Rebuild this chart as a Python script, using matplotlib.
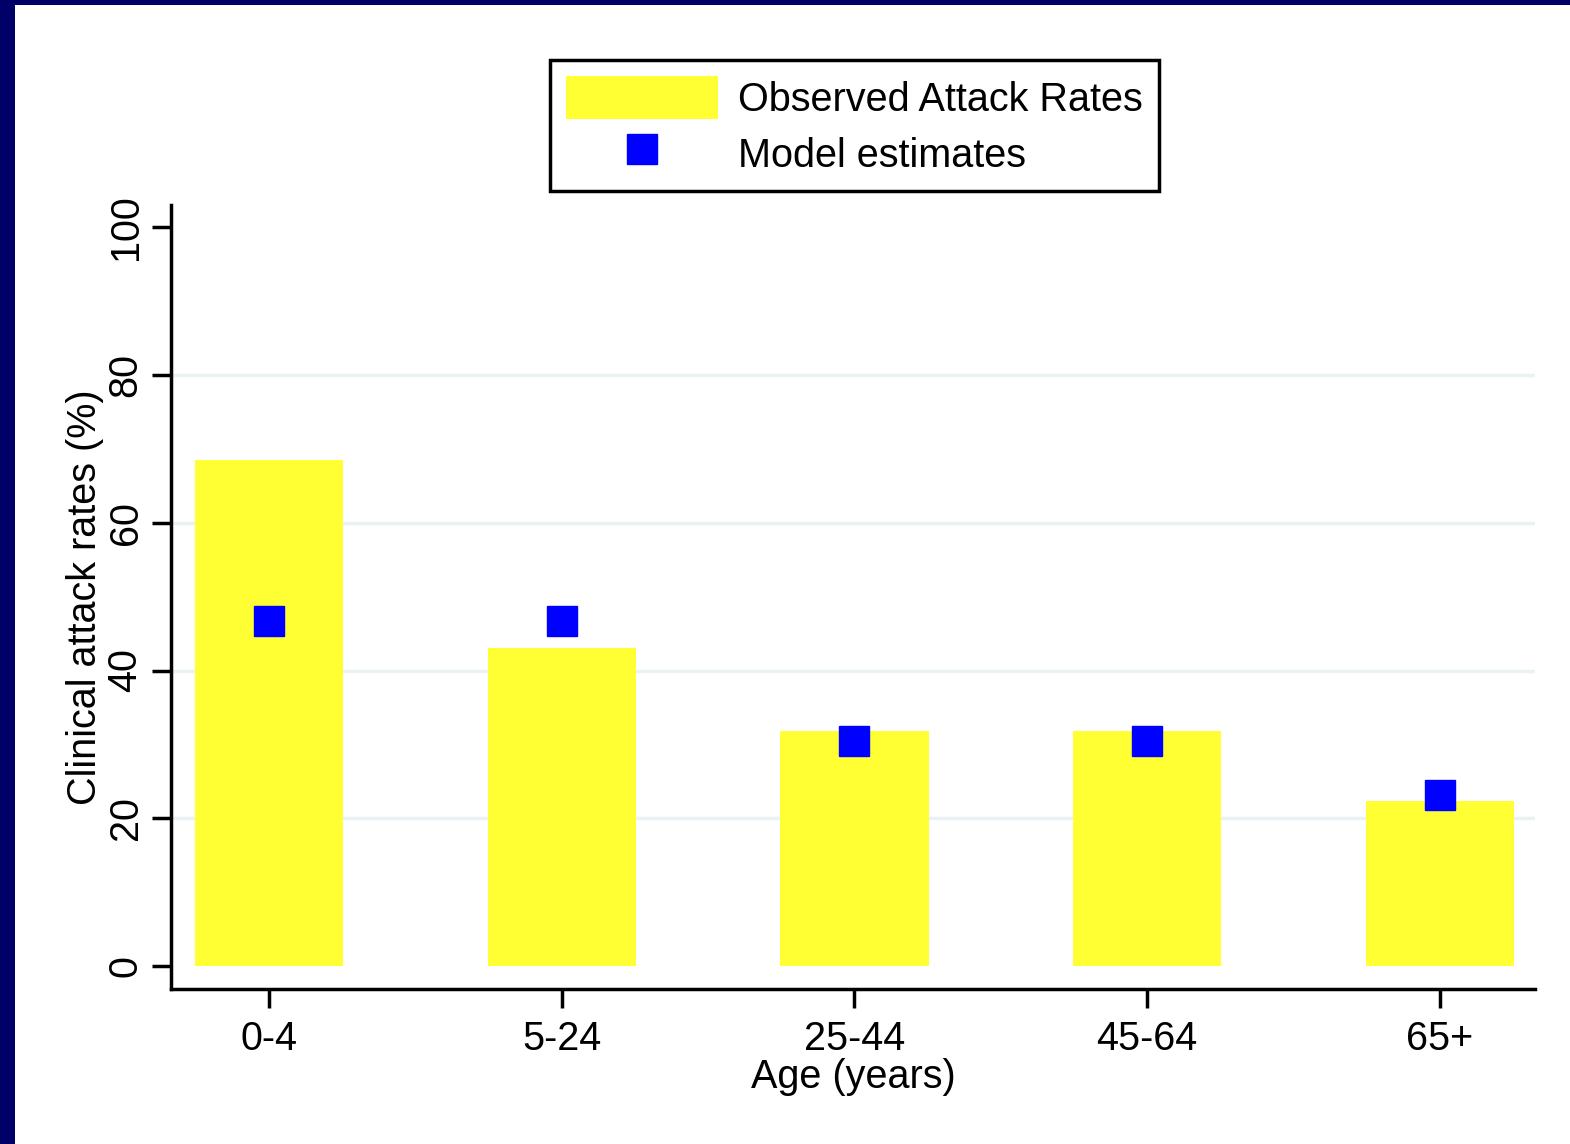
import matplotlib
matplotlib.use("Agg")
import matplotlib.pyplot as plt
from matplotlib.patches import Patch, Rectangle
from matplotlib.lines import Line2D

plt.rcParams['font.family'] = ['Liberation Sans', 'DejaVu Sans']

age_groups = ['0-4', '5-24', '25-44', '45-64', '65+']
observed = [68.5, 43.0, 31.8, 31.8, 22.3]
model = [46.7, 46.7, 30.4, 30.4, 23.1]

fs = 28.5
fig = plt.figure(figsize=(15.7, 11.44), dpi=100)
fig.patch.set_facecolor('white')

# navy frame on left and top
fig.patches.append(Rectangle((0, 0), 15 / 1570, 1, transform=fig.transFigure,
                             facecolor='#000068', edgecolor='none', zorder=0))
fig.patches.append(Rectangle((0, 1 - 5 / 1144), 1, 5 / 1144, transform=fig.transFigure,
                             facecolor='#000068', edgecolor='none', zorder=0))

ax = fig.add_axes([171 / 1570, 1 - 989 / 1144, (1535 - 171) / 1570, (989 - 205) / 1144])

x = list(range(len(age_groups)))
ax.bar(x, observed, width=0.507, color='#ffff33', zorder=2)
ax.plot(x, model, linestyle='none', marker='s', markersize=21,
        color='#0000ff', zorder=3)

ax.set_xlim(-0.335, 4.325)
ax.set_ylim(-3.1, 103)
ax.set_yticks([0, 20, 40, 60, 80, 100])
ax.set_xticks(x)
ax.set_xticklabels(age_groups)
for g in [20, 40, 60, 80]:
    ax.axhline(g, color='#eaf2f3', linewidth=2.5, zorder=1)

for s in ['top', 'right']:
    ax.spines[s].set_visible(False)
for s in ['left', 'bottom']:
    ax.spines[s].set_linewidth(2.5)

ax.tick_params(axis='both', labelsize=fs, width=2.5, length=14, colors='black')
ax.tick_params(axis='y', pad=5)
ax.tick_params(axis='x', pad=8)
for lab in ax.get_yticklabels():
    lab.set_rotation(90)
    lab.set_va('center')

ax.set_xlabel('Age (years)', fontsize=fs, labelpad=0)
ax.set_ylabel('Clinical attack rates (%)', fontsize=fs, labelpad=2)

handles = [Patch(facecolor='#ffff33', edgecolor='none'),
           Line2D([], [], linestyle='none', marker='s', markersize=21, color='#0000ff')]
leg = fig.legend(handles, ['Observed Attack Rates', 'Model estimates'],
                 loc='upper center', bbox_to_anchor=(854.5 / 1570, 1 - 60 / 1144),
                 bbox_transform=fig.transFigure, fontsize=fs, fancybox=False,
                 frameon=True, edgecolor='black', framealpha=1, borderaxespad=0,
                 handlelength=3.85, handleheight=1.3, handletextpad=0.5,
                 labelspacing=0.33, borderpad=0.4)
leg.get_frame().set_linewidth(2.5)

fig.savefig('out.png', dpi=100, facecolor='white')
